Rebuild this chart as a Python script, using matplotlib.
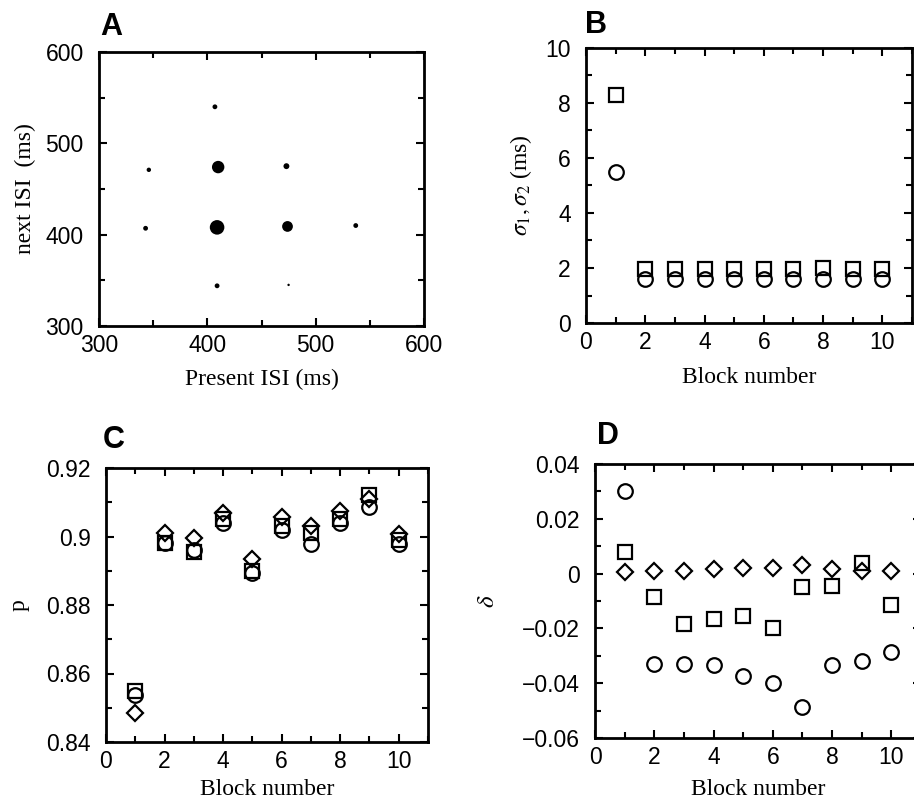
import numpy as np
import matplotlib.pyplot as plt
from matplotlib.ticker import MultipleLocator

# Panel A: return map blobs (present ISI, next ISI, blob size)
isi_now = [407, 410, 473, 346, 409, 474, 343, 537, 409, 475]
isi_next = [540, 474, 475, 471, 408, 409, 407, 410, 344, 345]
blob_size = [12, 80, 18, 10, 110, 60, 12, 12, 12, 3]

# Panel B: widths per block
blocks = np.arange(1, 11)
sigma1 = [8.3, 1.95, 1.95, 1.95, 1.95, 1.95, 1.95, 2.0, 1.95, 1.95]
sigma2 = [5.5, 1.6, 1.6, 1.6, 1.6, 1.6, 1.6, 1.6, 1.6, 1.6]

# Panel C: p per block
p_sq = [0.855, 0.898, 0.8955, 0.905, 0.890, 0.903, 0.901, 0.905, 0.912, 0.899]
p_ci = [0.8537, 0.898, 0.896, 0.904, 0.8893, 0.902, 0.8978, 0.904, 0.9086, 0.8978]
p_di = [0.8485, 0.901, 0.8995, 0.9068, 0.8935, 0.9058, 0.9030, 0.9075, 0.9110, 0.9008]

# Panel D: delta per block
d_ci = [0.0303, -0.033, -0.033, -0.0334, -0.0374, -0.0398, -0.0487, -0.0334, -0.0318, -0.0285]
d_sq = [0.0078, -0.0084, -0.0184, -0.0166, -0.0155, -0.0197, -0.005, -0.0044, 0.004, -0.0115]
d_di = [0.0005, 0.001, 0.001, 0.0015, 0.002, 0.002, 0.003, 0.0015, 0.001, 0.001]

W, H = 914, 801
fig = plt.figure(figsize=(W/100, H/100), dpi=100)
plt.rcParams['mathtext.fontset'] = 'stix'

def box(l, r, t, b):
    return [l/W, (H-b)/H, (r-l)/W, (b-t)/H]

tickfont = "Liberation Sans"
labfont = "Liberation Serif"

def style(ax, xmaj, xmin, ymaj, ymin):
    ax.xaxis.set_major_locator(MultipleLocator(xmaj))
    ax.xaxis.set_minor_locator(MultipleLocator(xmin))
    ax.yaxis.set_major_locator(MultipleLocator(ymaj))
    ax.yaxis.set_minor_locator(MultipleLocator(ymin))
    ax.tick_params(which='both', direction='in', top=True, right=True, width=1.5)
    ax.tick_params(which='major', length=6, labelsize=16.5)
    ax.tick_params(axis='y', which='major', pad=11)
    ax.tick_params(axis='x', which='major', pad=6)
    ax.tick_params(which='minor', length=4)
    for s in ax.spines.values():
        s.set_linewidth(2)

mk = dict(linestyle='none', mfc='none', mec='black', mew=1.6, ms=10.5, color='black')

# A
axA = fig.add_axes(box(99, 424, 52, 326))
axA.scatter(isi_now, isi_next, s=blob_size, color='black', marker='o', edgecolors='none')
axA.set_xlim(300, 600)
axA.set_ylim(300, 600)
style(axA, 100, 50, 100, 50)
axA.set_xlabel("Present ISI (ms)", fontfamily=labfont, fontsize=17, labelpad=8)
axA.set_ylabel("next ISI  (ms)", fontfamily=labfont, fontsize=17, labelpad=7)

# B
axB = fig.add_axes(box(586, 912, 48, 323))
axB.plot(blocks, sigma1, marker='s', **mk)
axB.plot(blocks, sigma2, marker='o', **mk)
axB.set_xlim(0, 11)
axB.set_ylim(0, 10)
style(axB, 2, 1, 2, 1)
axB.set_xlabel("Block number", fontfamily=labfont, fontsize=17, labelpad=9)
axB.set_ylabel(r"$\sigma_1, \sigma_2$ (ms)", fontfamily=labfont, fontsize=17, labelpad=8)

# C
axC = fig.add_axes(box(106, 428, 468, 742))
axC.plot(blocks, p_sq, marker='s', **mk)
axC.plot(blocks, p_ci, marker='o', **mk)
axC.plot(blocks, p_di, marker='D', **dict(mk, ms=8.5))
axC.set_xlim(0, 11)
axC.set_ylim(0.84, 0.92)
style(axC, 2, 1, 0.02, 0.01)
axC.yaxis.set_major_formatter(plt.FuncFormatter(lambda v, p: f"{v:g}"))
axC.set_xlabel("Block number", fontfamily=labfont, fontsize=17, labelpad=4)
axC.set_ylabel("p", fontfamily=labfont, fontsize=17, labelpad=12)

# D
axD = fig.add_axes(box(595, 921, 464, 738))
axD.plot(blocks, d_ci, marker='o', **mk)
axD.plot(blocks, d_sq, marker='s', **mk)
axD.plot(blocks, d_di, marker='D', **dict(mk, ms=8.5))
axD.set_xlim(0, 11)
axD.set_ylim(-0.06, 0.04)
style(axD, 2, 1, 0.02, 0.01)
axD.yaxis.set_major_formatter(plt.FuncFormatter(
    lambda v, p: "0" if abs(v) < 1e-9 else f"{v:.2f}".replace("-", "\u2212")))
axD.set_xlabel("Block number", fontfamily=labfont, fontsize=17, labelpad=7)
axD.set_ylabel(r"$\delta$", fontsize=18, labelpad=16)

for ax in [axA, axB, axC, axD]:
    for lab in ax.get_xticklabels() + ax.get_yticklabels():
        lab.set_fontfamily(tickfont)

# panel letters
for letter, x, y in [("A", 100, 35), ("B", 585, 33), ("C", 103, 448), ("D", 597, 444)]:
    fig.text(x/W, 1 - y/H, letter, fontfamily=tickfont, fontweight='bold', fontsize=22)

fig.savefig("out.png", dpi=100)
